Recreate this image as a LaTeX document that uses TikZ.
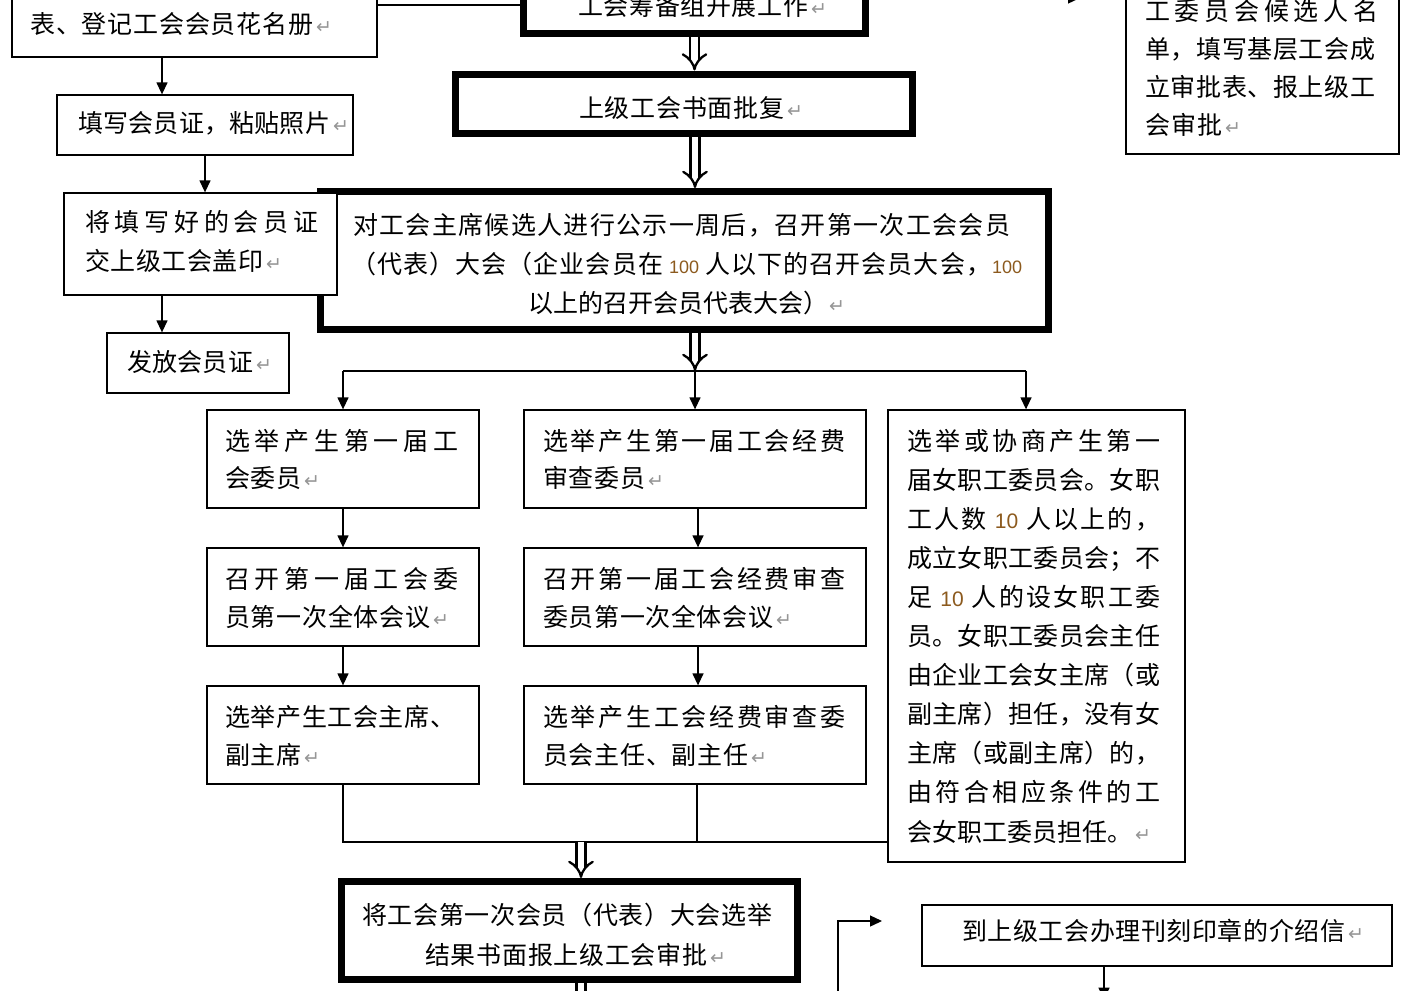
\documentclass[tikz,border=0pt]{standalone}
\usepackage{fontspec}
\setmainfont{Noto Sans CJK SC}
\newfontfamily\dejavu{DejaVu Sans}
\newfontfamily\libsans{Liberation Sans}
\usetikzlibrary{arrows.meta}
\definecolor{digitc}{RGB}{140,90,30}
\definecolor{markc}{RGB}{150,150,150}
\ExplSyntaxOn
\NewDocumentCommand\spread{m m}{\hbox~to~#1{\tl_map_inline:nn{#2}{##1\hfil}\unskip}}
\ExplSyntaxOff
\newcommand\pmk{\hspace{3pt}{\dejavu\fontsize{19}{19}\selectfont\color{markc}↵}}
\newcommand\dg[1]{{\libsans\fontsize{18}{18}\selectfont\color{digitc}#1}}
\newcommand\dgb[1]{{\libsans\fontsize{21}{21}\selectfont\color{digitc}#1}}
\tikzset{
  thinbox/.style={draw, line width=1.3pt, fill=white, inner sep=0pt},
  thickbox/.style={draw, line width=7pt, fill=white, inner sep=0pt},
  txt/.style={inner sep=0pt, text height=21.5pt, text depth=3pt, anchor=west, font=\fontsize{25}{25}\selectfont},
  conn/.style={line width=1.3pt},
  arr/.style={line width=1.3pt, -{Triangle[length=12pt,width=11pt]}},
  dbl/.style={double, double distance=6.5pt, line width=2.3pt, -{Implies[length=9pt,width=24pt]}}
}
\begin{document}
\begin{tikzpicture}[x=1pt,y=-1pt]
\useasboundingbox (0,0) rectangle (1420,990);
\clip (0,0) rectangle (1420,990);
% helper coordinates
\coordinate (y5) at (0,5);
\coordinate (c162) at (162,0);
\coordinate (c695) at (695,0);
\coordinate (c698) at (698,0);
\coordinate (c697) at (697,0);
\coordinate (c581) at (581,0);
\coordinate (c1104) at (1104,0);
\coordinate (split) at (695,371);
\coordinate (sL) at (343,371);
\coordinate (sR) at (1026,371);
\coordinate (j) at (0,842);
\coordinate (eb) at (838,1000);
\coordinate (ee) at (882,921);
\coordinate (fa) at (1040,-2);
\coordinate (fb) at (1080,-2);

% boxes
\node[thinbox, minimum width=365pt, minimum height=77pt] (tl) at (194.5,18.5) {};
\node[thickbox, minimum width=342pt, minimum height=63.5pt] (top) at (694.5,1.75) {};
\node[thickbox, minimum width=457pt, minimum height=59.5pt] (appr) at (684,103.75) {};
\node[thinbox, minimum width=296pt, minimum height=60pt] (fill) at (205,125) {};
\node[thickbox, minimum width=728pt, minimum height=138pt] (big) at (684.5,260.5) {};
\node[thinbox, minimum width=273pt, minimum height=102pt] (stamp) at (200.5,244) {};
\node[thinbox, minimum width=182pt, minimum height=60pt] (issue) at (198,363) {};
\node[thinbox, minimum width=272pt, minimum height=98pt] (a1) at (343,459) {};
\node[thinbox, minimum width=272pt, minimum height=98pt] (a2) at (343,597) {};
\node[thinbox, minimum width=272pt, minimum height=98pt] (a3) at (343,735) {};
\node[thinbox, minimum width=342pt, minimum height=98pt] (b1) at (695,459) {};
\node[thinbox, minimum width=342pt, minimum height=98pt] (b2) at (695,597) {};
\node[thinbox, minimum width=342pt, minimum height=98pt] (b3) at (695,735) {};
\node[thinbox, minimum width=297pt, minimum height=452pt] (c) at (1036.5,636) {};
\node[thickbox, minimum width=456pt, minimum height=98pt] (d) at (569.5,930.5) {};
\node[thinbox, minimum width=470pt, minimum height=61pt] (e) at (1157,935.5) {};
\node[thinbox, minimum width=273pt, minimum height=174pt] (f) at (1262.5,67) {};

% texts
\node[txt] (t1) at (30,24) {\spread{283pt}{表、登记工会会员花名册}\pmk};
\node[txt] (t2) at (578,6) {\spread{230pt}{工会筹备组开展工作}\pmk};
\node[txt] (t3) at (579,108) {\spread{205pt}{上级工会书面批复}\pmk};
\node[txt] (t4) at (78,123) {\spread{252pt}{填写会员证，粘贴照片}\pmk};
\node[txt] (t5) at (85,222) {\spread{233pt}{将填写好的会员证}};
\node[txt] (t6) at (85,261) {\spread{178pt}{交上级工会盖印}\pmk};
\node[txt] (t7) at (127,362) {\spread{126pt}{发放会员证}\pmk};
\node[txt] (t8) at (353,225) {\spread{657pt}{对工会主席候选人进行公示一周后，召开第一次工会会员}};
\node[txt] (t9) at (351,264) {\spread{671pt}{（代表）大会（企业会员在{\hspace{5pt}\dg{100}\hspace{5pt}}人以下的召开会员大会，{\dg{100}}}};
\node[txt] (t10) at (528,303) {\spread{298pt}{以上的召开会员代表大会）}\pmk};
\node[txt] (t11) at (225,441) {\spread{233pt}{选举产生第一届工}};
\node[txt] (t12) at (225,478) {\spread{76pt}{会委员}\pmk};
\node[txt] (t13) at (225,579) {\spread{233pt}{召开第一届工会委}};
\node[txt] (t14) at (225,617) {\spread{205pt}{员第一次全体会议}\pmk};
\node[txt] (t15) at (225,717) {\spread{230pt}{选举产生工会主席、}};
\node[txt] (t16) at (225,755) {\spread{76pt}{副主席}\pmk};
\node[txt] (t17) at (543,441) {\spread{302pt}{选举产生第一届工会经费}};
\node[txt] (t18) at (543,478) {\spread{102pt}{审查委员}\pmk};
\node[txt] (t19) at (543,579) {\spread{302pt}{召开第一届工会经费审查}};
\node[txt] (t20) at (543,617) {\spread{230pt}{委员第一次全体会议}\pmk};
\node[txt] (t21) at (543,717) {\spread{302pt}{选举产生工会经费审查委}};
\node[txt] (t22) at (543,755) {\spread{205pt}{员会主任、副主任}\pmk};
\node[txt] (t23) at (907,441) {\spread{253pt}{选举或协商产生第一}};
\node[txt] (t24) at (907,480) {\spread{253pt}{届女职工委员会。女职}};
\node[txt] (t25) at (907,519) {\spread{253pt}{工人数{\hspace{6pt}\dgb{10}\hspace{6pt}}人以上的，}};
\node[txt] (t26) at (907,558) {\spread{253pt}{成立女职工委员会；不}};
\node[txt] (t27) at (907,597) {\spread{253pt}{足{\hspace{6pt}\dgb{10}\hspace{6pt}}人的设女职工委}};
\node[txt] (t28) at (907,636) {\spread{253pt}{员。女职工委员会主任}};
\node[txt] (t29) at (907,675) {\spread{253pt}{由企业工会女主席（或}};
\node[txt] (t30) at (907,714) {\spread{253pt}{副主席）担任，没有女}};
\node[txt] (t31) at (907,753) {\spread{253pt}{主席（或副主席）的，}};
\node[txt] (t32) at (907,792) {\spread{253pt}{由符合相应条件的工}};
\node[txt] (t33) at (907,832) {\spread{225pt}{会女职工委员担任。}\pmk};
\node[txt] (t34) at (362,915) {\spread{410pt}{将工会第一次会员（代表）大会选举}};
\node[txt] (t35) at (425,955) {\spread{282pt}{结果书面报上级工会审批}\pmk};
\node[txt] (t36) at (962,931) {\spread{383pt}{到上级工会办理刊刻印章的介绍信}\pmk};
\node[txt] (t37) at (1145,11) {\spread{233pt}{工委员会候选人名}};
\node[txt] (t38) at (1145,49) {\spread{230pt}{单，填写基层工会成}};
\node[txt] (t39) at (1145,87) {\spread{230pt}{立审批表、报上级工}};
\node[txt] (t40) at (1145,125) {\spread{77pt}{会审批}\pmk};

% connectors
\draw[conn] (tl.east |- y5) -- (top.west |- y5);
\draw[arr] (tl.south -| c162) -- (fill.north -| c162);
\draw[arr] (fill.south) -- (stamp.north -| fill.south);
\draw[arr] (stamp.south -| c162) -- (issue.north -| c162);
\draw[dbl] (top.south) -- (appr.north -| top.south);
\draw[dbl] (appr.south -| c695) -- (big.north -| c695);
\draw[dbl] (big.south -| c695) -- (split);
\draw[conn] (sL) -- (sR);
\draw[arr] (sL) -- (a1.north -| sL);
\draw[arr] (split) -- (b1.north -| split);
\draw[arr] (sR) -- (c.north -| sR);
\draw[arr] (a1.south) -- (a2.north);
\draw[arr] (a2.south) -- (a3.north);
\draw[arr] (b1.south -| c698) -- (b2.north -| c698);
\draw[arr] (b2.south -| c698) -- (b3.north -| c698);
\draw[conn] (a3.south) -- (a3.south |- j) -- (c.west |- j);
\draw[conn] (b3.south -| c697) -- (c697 |- j);
\draw[dbl] (c581 |- j) -- (d.north -| c581);
\draw[dbl] (d.south -| c581) -- ++(0,40);
\draw[arr] (eb) |- (ee);
\draw[arr] (e.south -| c1104) -- ++(0,33);
\draw[arr] (fa) -- (fb);
\end{tikzpicture}
\end{document}
